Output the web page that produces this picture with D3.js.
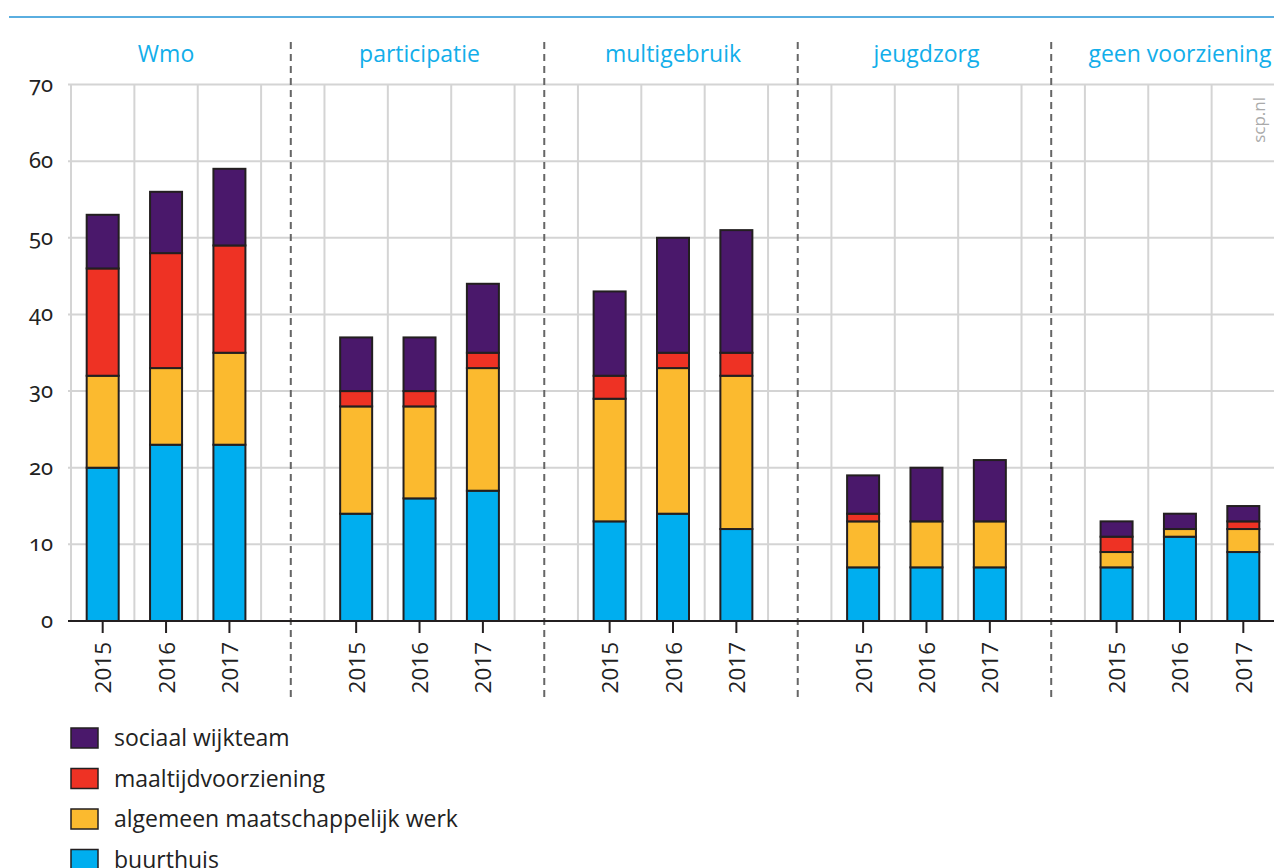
<!DOCTYPE html>
<html lang="nl">
<head>
<meta charset="UTF-8">
<title>Gebruik voorzieningen</title>
<script src="https://d3js.org/d3.v7.min.js"></script>
<style>
  body { margin: 0; background: #fff; font-family: "Open Sans", "Noto Sans", sans-serif; }
  svg { display: block; }
  .grid line { stroke: #d4d4d4; stroke-width: 2; }
  .grouplabel { fill: #12aeea; font-size: 23px; text-anchor: middle; }
  .ytick { fill: #222; font-size: 22px; text-anchor: end; font-family: "Noto Sans", sans-serif; font-variant-numeric: oldstyle-nums; }
  .xtick { fill: #222; font-size: 22.5px; }
  .legend text { fill: #222; font-size: 23px; }
</style>
</head>
<body>
<svg width="1274" height="868"></svg>
<script>
// categories
const groups = ['Wmo', 'participatie', 'multigebruik', 'jeugdzorg', 'geen voorziening'];
const years = ['2015', '2016', '2017'];
const yTicks = [0, 10, 20, 30, 40, 50, 60, 70];

// series values, per group the three years
const buurthuis          = [20, 23, 23, 14, 16, 17, 13, 14, 12, 7, 7, 7, 7, 11, 9];
const maatschappelijk    = [12, 10, 12, 14, 12, 16, 16, 19, 20, 6, 6, 6, 2, 1, 3];
const maaltijd           = [14, 15, 14, 2, 2, 2, 3, 2, 3, 1, 0, 0, 2, 0, 1];
const wijkteam           = [7, 8, 10, 7, 7, 9, 11, 15, 16, 5, 7, 8, 2, 2, 2];

const seriesKeys = ['buurthuis', 'algemeen maatschappelijk werk', 'maaltijdvoorziening', 'sociaal wijkteam'];
const colors = ['#00aeef', '#fbba2f', '#ee3224', '#4a186b'];

// build rows for the stack
const rows = [];
groups.forEach((g, gi) => {
  years.forEach((yr, yi) => {
    const i = gi * 3 + yi;
    rows.push({
      key: g + '|' + yr, group: g, year: yr,
      'buurthuis': buurthuis[i],
      'algemeen maatschappelijk werk': maatschappelijk[i],
      'maaltijdvoorziening': maaltijd[i],
      'sociaal wijkteam': wijkteam[i]
    });
  });
});

// slots: 3 years per group plus an empty slot between groups
const slots = [];
groups.forEach((g, gi) => {
  years.forEach(yr => slots.push(g + '|' + yr));
  if (gi < groups.length - 1) slots.push(g + '|gap');
});

const svg = d3.select('svg');
const plotLeft = 71, plotRight = 1275, plotTop = 84.5, plotBottom = 621;

const x = d3.scaleBand().domain(slots).range([plotLeft, plotRight]).padding(0);
const y = d3.scaleLinear().domain([0, 70]).range([plotBottom, plotTop]);
const barW = 32;

// top rule
svg.append('line')
  .attr('x1', 9).attr('x2', 1274).attr('y1', 17).attr('y2', 17)
  .attr('stroke', '#5aaee0').attr('stroke-width', 2);

// grid
const grid = svg.append('g').attr('class', 'grid');
grid.selectAll('.h').data(yTicks).enter().append('line')
  .attr('x1', plotLeft - 3).attr('x2', 1274)
  .attr('y1', d => y(d)).attr('y2', d => y(d));
const bounds = slots.map(s => x(s)).concat([plotRight]);
grid.selectAll('.v').data(bounds).enter().append('line')
  .attr('x1', d => d).attr('x2', d => d)
  .attr('y1', plotTop).attr('y2', plotBottom);

// y tick labels
svg.selectAll('.ytick').data(yTicks).enter().append('text')
  .attr('class', 'ytick')
  .attr('x', 53).attr('y', d => y(d) + 7)
  .text(d => d);

// dashed separators in the empty slots
const gaps = slots.filter(s => s.endsWith('|gap'));
svg.selectAll('.sep').data(gaps).enter().append('line')
  .attr('x1', d => x(d) + x.bandwidth() / 2 - 2)
  .attr('x2', d => x(d) + x.bandwidth() / 2 - 2)
  .attr('y1', 42).attr('y2', 700)
  .attr('stroke', '#666').attr('stroke-width', 2)
  .attr('stroke-dasharray', '7,5');

// group labels, centred over the middle year
svg.selectAll('.grouplabel').data(groups).enter().append('text')
  .attr('class', 'grouplabel')
  .attr('x', d => x(d + '|2016') + x.bandwidth() / 2)
  .attr('y', 62)
  .text(d => d);

// stacked bars
const stacked = d3.stack().keys(seriesKeys)(rows);
const layers = svg.selectAll('.layer').data(stacked).enter().append('g')
  .attr('fill', (d, i) => colors[i]);
layers.selectAll('rect').data(d => d.filter(p => p[1] - p[0] > 0)).enter().append('rect')
  .attr('x', d => x(d.data.key) + (x.bandwidth() - barW) / 2)
  .attr('y', d => y(d[1]))
  .attr('width', barW)
  .attr('height', d => y(d[0]) - y(d[1]))
  .attr('stroke', '#231f20').attr('stroke-width', 2);

// x axis
svg.append('line')
  .attr('x1', plotLeft - 3).attr('x2', 1274).attr('y1', plotBottom).attr('y2', plotBottom)
  .attr('stroke', '#231f20').attr('stroke-width', 2);
svg.selectAll('.tick').data(rows).enter().append('line')
  .attr('x1', d => x(d.key) + x.bandwidth() / 2)
  .attr('x2', d => x(d.key) + x.bandwidth() / 2)
  .attr('y1', plotBottom).attr('y2', plotBottom + 12)
  .attr('stroke', '#231f20').attr('stroke-width', 2);
svg.selectAll('.xtick').data(rows).enter().append('text')
  .attr('class', 'xtick')
  .attr('transform', d => `translate(${x(d.key) + x.bandwidth() / 2},642) rotate(-90)`)
  .attr('text-anchor', 'end')
  .attr('dominant-baseline', 'central')
  .text(d => d.year);

// source
svg.append('text')
  .attr('transform', 'translate(1258,97) rotate(-90)')
  .attr('text-anchor', 'end')
  .attr('dominant-baseline', 'central')
  .attr('fill', '#aaa').attr('font-size', 17)
  .text('scp.nl');

// legend, top layer first
const legendOrder = seriesKeys.map((k, i) => ({ k, c: colors[i] })).reverse();
const legend = svg.append('g').attr('class', 'legend');
const items = legend.selectAll('g').data(legendOrder).enter().append('g')
  .attr('transform', (d, i) => `translate(71,${738 + i * 40.5})`);
items.append('rect')
  .attr('x', 0).attr('y', -10).attr('width', 27).attr('height', 20)
  .attr('fill', d => d.c).attr('stroke', '#231f20').attr('stroke-width', 1.5);
items.append('text')
  .attr('x', 43).attr('y', 8)
  .text(d => d.k);
</script>
</body>
</html>
